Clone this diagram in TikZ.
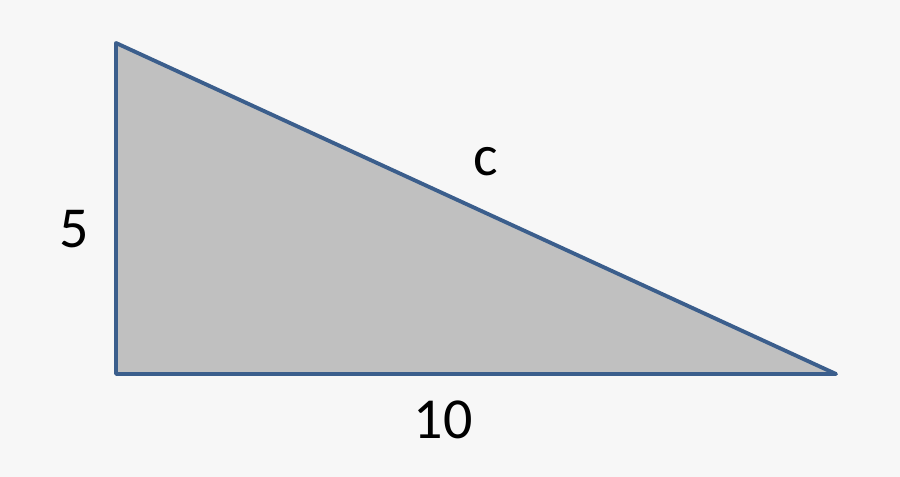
\documentclass[tikz,border=0pt]{standalone}
\usepackage{fontspec}
\setmainfont{Carlito}
\usepackage{tikz}
\usetikzlibrary{positioning, calc}
\definecolor{bgcol}{HTML}{F7F7F7}
\definecolor{edgecol}{HTML}{3B5E8C}
\definecolor{fillcol}{HTML}{C0C0C0}
\tikzstyle{side} = [line width=2.2pt, draw=edgecol, fill=fillcol, line join=round]
\tikzstyle{lbl} = [font=\fontsize{33}{40}\selectfont, inner sep=0pt]

\begin{document}
\begin{tikzpicture}
    % Canvas
    \fill[bgcol] (0,0) rectangle (18,9.54);
    \useasboundingbox (0,0) rectangle (18,9.54);

    % Corners
    \coordinate (top) at (2.32,8.68);
    \coordinate (corner) at (2.32,2.06);
    \coordinate (right) at (16.72,2.06);

    % Triangle
    \draw[side] (top) -- (corner) -- (right) -- cycle;

    % Labels
    \node (a) at (1.49,4.95) [lbl] {5};
    \node (c) at (9.72,6.3) [lbl] {c};
    \node (b) at (8.86,1.14) [lbl] {10};
\end{tikzpicture}
\end{document}
